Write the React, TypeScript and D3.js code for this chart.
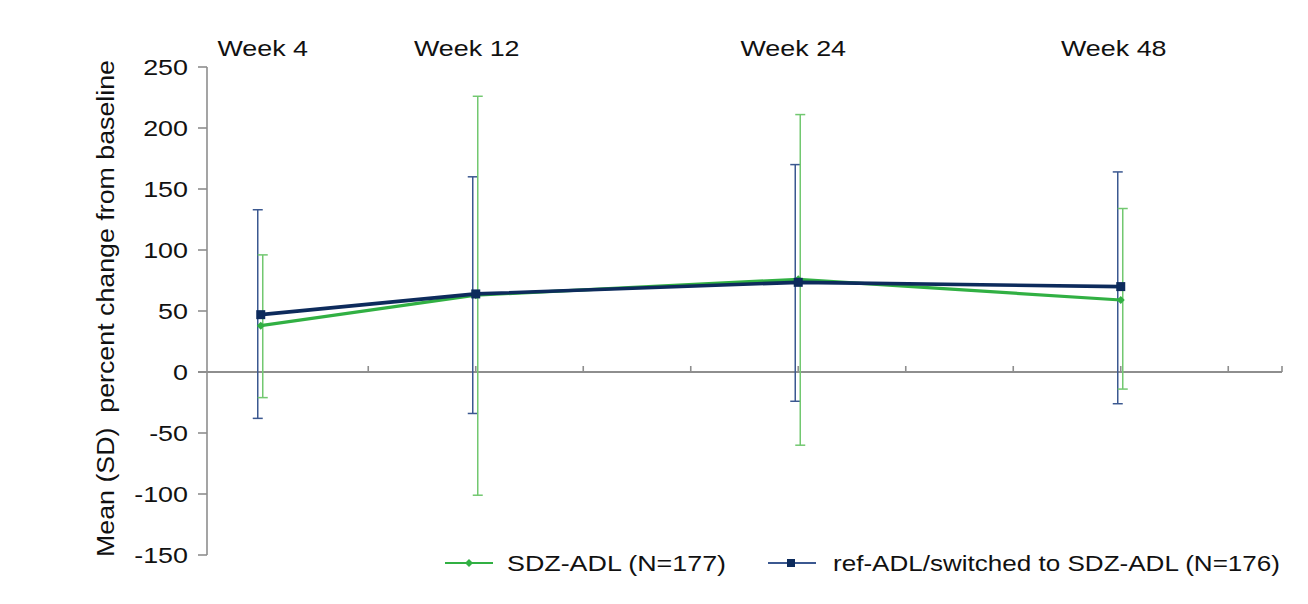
import React from "react";
import * as d3 from "d3";

// ---- data ----
const weekLabels = ["Week 4", "Week 12", "Week 24", "Week 48"];
const weekPositions = [0, 2, 5, 8];
const weekLabelOffsets = [2, -9, -5, -7];

const sdzMean = [38, 63, 76, 59];
const sdzUpper = [96, 226, 211, 134];
const sdzLower = [-21, -101, -60, -14];

const refMean = [47, 64, 73.5, 70];
const refUpper = [133, 160, 170, 164];
const refLower = [-38, -34, -24, -26];

const yTicks = [250, 200, 150, 100, 50, 0, -50, -100, -150];
const xTicks = [1, 2, 3, 4, 5, 6, 7, 8, 9, 9.5];

const legendLabels = ["SDZ-ADL (N=177)", "ref-ADL/switched to SDZ-ADL (N=176)"];
const yTitle = "Mean (SD)  percent change from baseline";

const W = 1308;
const H = 604;
const FONT = "'Liberation Sans', Arial, Helvetica, sans-serif";
const SX = 1.25;
const FS = 21.5;

const GREEN_LINE = "#31b043";
const GREEN_BAR = "#72c870";
const BLUE_LINE = "#0d2b5c";
const BLUE_BAR = "#3b5890";
const AXIS = "#8e8e8e";

export default function App() {
  const x = d3.scaleLinear().domain([-0.5, 9.5]).range([207, 1282]);
  const y = d3.scaleLinear().domain([-150, 250]).range([555, 67]);

  const line = d3
    .line<number>()
    .x((_, i) => x(weekPositions[i]))
    .y((d) => y(d));

  const T = (props: any) => {
    const { x: tx, y: ty, children, anchor = "start", ...rest } = props;
    return (
      <text
        transform={`translate(${tx},${ty}) scale(${SX},1)`}
        textAnchor={anchor}
        fontFamily={FONT}
        fontSize={FS}
        fill="#111"
        {...rest}
      >
        {children}
      </text>
    );
  };

  const errBars = (
    upper: number[],
    lower: number[],
    dx: number,
    color: string,
    key: string
  ) =>
    weekPositions.map((p, i) => {
      const cx = x(p) + dx;
      return (
        <g key={key + i} stroke={color} strokeWidth={1.5}>
          <line x1={cx} x2={cx} y1={y(upper[i])} y2={y(lower[i])} />
          <line x1={cx - 5} x2={cx + 5} y1={y(upper[i])} y2={y(upper[i])} />
          <line x1={cx - 5} x2={cx + 5} y1={y(lower[i])} y2={y(lower[i])} />
        </g>
      );
    });

  const diamond = (cx: number, cy: number, r: number, color: string, key: string) => (
    <path
      key={key}
      d={`M${cx},${cy - r}L${cx + r},${cy}L${cx},${cy + r}L${cx - r},${cy}Z`}
      fill={color}
    />
  );

  return (
    <svg
      width={W}
      height={H}
      style={{ position: "absolute", left: 0, top: 0, background: "#fff" }}
    >
      <rect width={W} height={H} fill="#fff" />

      {/* y axis */}
      <line x1={207} x2={207} y1={y(250)} y2={y(-150)} stroke={AXIS} strokeWidth={1.6} />
      {yTicks.map((t) => (
        <g key={"yt" + t}>
          <line x1={198} x2={207} y1={y(t)} y2={y(t)} stroke={AXIS} strokeWidth={1.6} />
          <T x={188} y={y(t) + 7.5} anchor="end">
            {t}
          </T>
        </g>
      ))}

      {/* x axis at 0 */}
      <line x1={198} x2={x(9.5)} y1={y(0)} y2={y(0)} stroke={AXIS} strokeWidth={2.2} />
      {xTicks.map((t) => (
        <line
          key={"xt" + t}
          x1={x(t)}
          x2={x(t)}
          y1={y(0)}
          y2={y(0) - 6}
          stroke={AXIS}
          strokeWidth={1.6}
        />
      ))}

      {/* week labels */}
      {weekLabels.map((w, i) => (
        <T key={w} x={x(weekPositions[i]) + weekLabelOffsets[i]} y={56} anchor="middle">
          {w}
        </T>
      ))}

      {/* y title */}
      <text
        transform={`translate(114,${(60 + 557) / 2}) rotate(-90)`}
        textAnchor="middle"
        fontFamily={FONT}
        fontSize={23}
        fill="#111"
        textLength={497}
        lengthAdjust="spacingAndGlyphs"
        style={{ whiteSpace: "pre" }}
      >
        {yTitle}
      </text>

      {/* error bars */}
      {errBars(refUpper, refLower, -3, BLUE_BAR, "rb")}
      {errBars(sdzUpper, sdzLower, 2, GREEN_BAR, "gb")}

      {/* lines */}
      <path d={line(sdzMean) || ""} fill="none" stroke={GREEN_LINE} strokeWidth={3.2} />
      {sdzMean.map((v, i) => diamond(x(weekPositions[i]), y(v), 4, GREEN_LINE, "gd" + i))}
      <path d={line(refMean) || ""} fill="none" stroke={BLUE_LINE} strokeWidth={3.6} />
      {refMean.map((v, i) => (
        <rect
          key={"bs" + i}
          x={x(weekPositions[i]) - 4.5}
          y={y(v) - 4.5}
          width={9}
          height={9}
          fill={BLUE_LINE}
        />
      ))}

      {/* legend */}
      <line x1={445} x2={493} y1={563} y2={563} stroke={GREEN_LINE} strokeWidth={2} />
      {diamond(469, 563, 4, GREEN_LINE, "lgd")}
      <T x={507} y={571} textLength={219 / SX} lengthAdjust="spacingAndGlyphs">
        {legendLabels[0]}
      </T>
      <line x1={768} x2={816} y1={563} y2={563} stroke={BLUE_BAR} strokeWidth={2} />
      <rect x={787} y={559} width={8} height={8} fill={BLUE_LINE} />
      <T x={833} y={571} textLength={447 / SX} lengthAdjust="spacingAndGlyphs">
        {legendLabels[1]}
      </T>
    </svg>
  );
}
